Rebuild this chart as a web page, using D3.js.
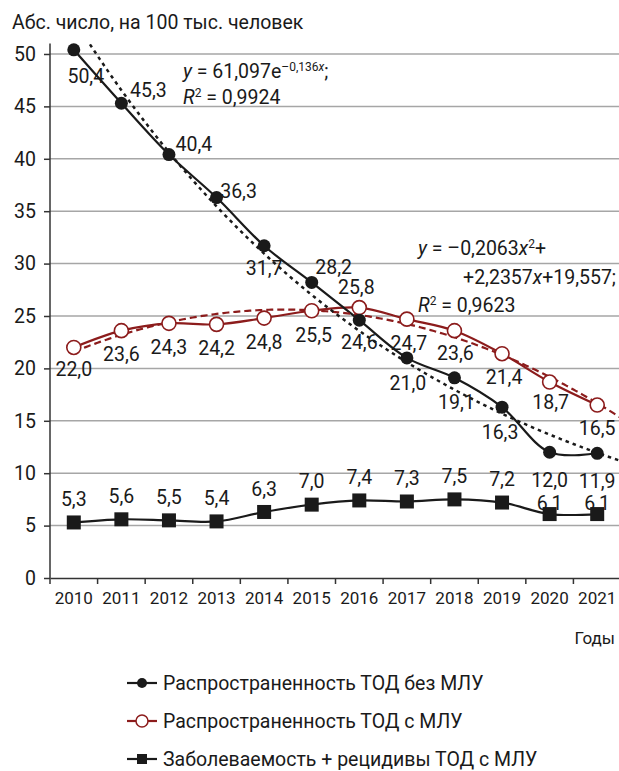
<!DOCTYPE html>
<html>
<head>
<meta charset="utf-8">
<script src="https://cdn.jsdelivr.net/npm/d3@7"></script>
<style>
  body { margin: 0; background: #fff; }
  text { font-family: "Roboto", "Liberation Sans", sans-serif; fill: #1a1a1a; }
</style>
</head>
<body>
<div id="chart"></div>
<script>
var years = [2010, 2011, 2012, 2013, 2014, 2015, 2016, 2017, 2018, 2019, 2020, 2021];
var prevNoMdr = [50.4, 45.3, 40.4, 36.3, 31.7, 28.2, 24.6, 21.0, 19.1, 16.3, 12.0, 11.9];
var prevMdr = [22.0, 23.6, 24.3, 24.2, 24.8, 25.5, 25.8, 24.7, 23.6, 21.4, 18.7, 16.5];
var incMdr = [5.3, 5.6, 5.5, 5.4, 6.3, 7.0, 7.4, 7.3, 7.5, 7.2, 6.1, 6.1];
var yTicks = [0, 5, 10, 15, 20, 25, 30, 35, 40, 45, 50];
var seriesNames = ["Распространенность ТОД без МЛУ", "Распространенность ТОД с МЛУ", "Заболеваемость + рецидивы ТОД с МЛУ"];

// label placement (dx, dy of label centre from the point)
var pos1 = [[12,26],[27,-13],[25,-10],[22,-6],[0,22],[22,-15],[0,22],[1,25],[2,24],[-2,25],[0,28],[0,28]];
var pos2 = [[0,22],[0,24],[0,24],[0,24],[0,24],[2,24],[-3,-20],[2,24],[1,23],[2,23],[1,20],[0,23]];
var pos3 = [[0,-23],[0,-23],[0,-23],[0,-23],[0,-23],[0,-23],[0,-23],[0,-23],[0,-23],[0,-23],[0,-11],[0,-11]];

var W = 619, H = 771;
var red = "#8c1c1c";
var FONT = "Roboto, 'Liberation Sans', sans-serif";

var svg = d3.select("#chart").append("svg")
  .attr("width", W).attr("height", H);

var x = d3.scaleBand().domain(years).range([50, 621]);
var bw = x.bandwidth();
var y = d3.scaleLinear().domain([0, 51]).range([578, 43.5]);
var xi = d3.scaleLinear().domain([1, 12]).range([x(2010) + bw / 2, x(2021) + bw / 2]);

function cx(d, i) { return x(years[i]) + bw / 2; }

// title
svg.append("text").attr("x", 12).attr("y", 29)
  .style("font-size", "19.5px").text("Абс. число, на 100 тыс. человек");

// grid
svg.append("g").selectAll("line").data(yTicks.slice(1)).enter().append("line")
  .attr("x1", 50).attr("x2", W).attr("y1", function(d){ return y(d); }).attr("y2", function(d){ return y(d); })
  .attr("stroke", "#a6a6a6").attr("stroke-width", 1.5);

// y axis
var yAxis = svg.append("g").attr("transform", "translate(50,0)")
  .call(d3.axisLeft(y).tickValues(yTicks).tickSize(6).tickFormat(d3.format("d")));
yAxis.attr("font-family", FONT);
yAxis.select(".domain").attr("stroke", "#333").attr("stroke-width", 1.5).attr("d", "M0," + y(51) + "V" + y(0));
yAxis.selectAll(".tick line").attr("stroke", "#333").attr("stroke-width", 1.5);
yAxis.selectAll(".tick text").attr("x", -14).style("font-size", "19.5px").attr("fill", "#1a1a1a");

// x axis
var xAxis = svg.append("g").attr("transform", "translate(0," + y(0) + ")")
  .call(d3.axisBottom(x).tickSize(0).tickPadding(14));
xAxis.attr("font-family", FONT);
xAxis.select(".domain").attr("stroke", "#333").attr("stroke-width", 1.5);
xAxis.selectAll(".tick text").style("font-size", "17px").attr("fill", "#1a1a1a");
svg.append("g").selectAll("line").data(years.concat([null])).enter().append("line")
  .attr("x1", function(d, i){ return x.range()[0] + i * bw; })
  .attr("x2", function(d, i){ return x.range()[0] + i * bw; })
  .attr("y1", y(0)).attr("y2", y(0) + 6)
  .attr("stroke", "#333").attr("stroke-width", 1.5);

svg.append("text").attr("x", 615).attr("y", 644).attr("text-anchor", "end")
  .style("font-size", "17px").text("Годы");

// clip for trend lines
svg.append("clipPath").attr("id", "plot").append("rect")
  .attr("x", 50).attr("y", y(51)).attr("width", W - 50).attr("height", y(0) - y(51));

var trendX = d3.range(1, 12.61, 0.05);
var expLine = d3.line().x(function(d){ return xi(d); }).y(function(d){ return y(61.097 * Math.exp(-0.136 * d)); });
var polyLine = d3.line().x(function(d){ return xi(d); }).y(function(d){ return y(-0.2063 * d * d + 2.2357 * d + 19.557); });

var smooth = d3.line().x(cx).y(function(d){ return y(d); }).curve(d3.curveCatmullRom.alpha(0.5));

// series lines
svg.append("path").datum(incMdr).attr("d", smooth).attr("fill", "none").attr("stroke", "#1a1a1a").attr("stroke-width", 2.2);
svg.append("path").datum(prevMdr).attr("d", smooth).attr("fill", "none").attr("stroke", red).attr("stroke-width", 2.2);
svg.append("path").datum(prevNoMdr).attr("d", smooth).attr("fill", "none").attr("stroke", "#1a1a1a").attr("stroke-width", 2.2);

// trend lines
svg.append("path").datum(trendX).attr("d", polyLine).attr("clip-path", "url(#plot)")
  .attr("fill", "none").attr("stroke", red).attr("stroke-width", 2.2).attr("stroke-dasharray", "7,4");
svg.append("path").datum(trendX).attr("d", expLine).attr("clip-path", "url(#plot)")
  .attr("fill", "none").attr("stroke", "#1a1a1a").attr("stroke-width", 2.5).attr("stroke-dasharray", "3.5,4");

// markers
svg.append("g").selectAll("rect").data(incMdr).enter().append("rect")
  .attr("x", function(d, i){ return cx(d, i) - 7; }).attr("y", function(d){ return y(d) - 7; })
  .attr("width", 14).attr("height", 14).attr("fill", "#1a1a1a");
svg.append("g").selectAll("circle").data(prevMdr).enter().append("circle")
  .attr("cx", cx).attr("cy", function(d){ return y(d); }).attr("r", 7)
  .attr("fill", "#fff").attr("stroke", red).attr("stroke-width", 1.6);
svg.append("g").selectAll("circle").data(prevNoMdr).enter().append("circle")
  .attr("cx", cx).attr("cy", function(d){ return y(d); }).attr("r", 6.5)
  .attr("fill", "#1a1a1a");

// value labels
var fmt = function(v){ return v.toFixed(1).replace(".", ","); };
function labels(data, p) {
  svg.append("g").selectAll("text").data(data).enter().append("text")
    .attr("x", function(d, i){ return cx(d, i) + p[i][0]; })
    .attr("y", function(d, i){ return y(d) + p[i][1]; })
    .attr("dy", "0.35em").attr("text-anchor", "middle")
    .style("font-size", "19.5px").text(fmt);
}
labels(prevNoMdr, pos1);
labels(prevMdr, pos2);
labels(incMdr, pos3);

// trend equations
var eq1 = svg.append("text").attr("x", 183).attr("y", 78).style("font-size", "19.5px");
eq1.append("tspan").style("font-style", "italic").text("y");
eq1.append("tspan").text(" = 61,097e");
eq1.append("tspan").attr("dy", -7).style("font-size", "12px").text("–0,136");
eq1.append("tspan").style("font-size", "12px").style("font-style", "italic").text("x");
eq1.append("tspan").attr("dy", 7).text(";");
var r1 = svg.append("text").attr("x", 183).attr("y", 104).style("font-size", "19.5px");
r1.append("tspan").style("font-style", "italic").text("R");
r1.append("tspan").attr("dy", -7).style("font-size", "12px").text("2");
r1.append("tspan").attr("dy", 7).text(" = 0,9924");

var eq2 = svg.append("text").attr("x", 418).attr("y", 255).style("font-size", "19.5px");
eq2.append("tspan").style("font-style", "italic").text("y");
eq2.append("tspan").text(" = –0,2063");
eq2.append("tspan").style("font-style", "italic").text("x");
eq2.append("tspan").attr("dy", -7).style("font-size", "12px").text("2");
eq2.append("tspan").attr("dy", 7).text("+");
var eq3 = svg.append("text").attr("x", 616).attr("y", 284).attr("text-anchor", "end").style("font-size", "19.5px");
eq3.append("tspan").text("+2,2357");
eq3.append("tspan").style("font-style", "italic").text("x");
eq3.append("tspan").text("+19,557;");
var r2 = svg.append("text").attr("x", 418).attr("y", 312).style("font-size", "19.5px");
r2.append("tspan").style("font-style", "italic").text("R");
r2.append("tspan").attr("dy", -7).style("font-size", "12px").text("2");
r2.append("tspan").attr("dy", 7).text(" = 0,9623");

// legend
var legY = [683, 721, 759];
var leg = svg.append("g").selectAll("g").data(seriesNames).enter().append("g")
  .attr("transform", function(d, i){ return "translate(127," + legY[i] + ")"; });
leg.append("line").attr("x1", 0).attr("x2", 30).attr("y1", 0).attr("y2", 0)
  .attr("stroke", function(d, i){ return i === 1 ? red : "#1a1a1a"; }).attr("stroke-width", 2.2);
leg.filter(function(d, i){ return i === 0; }).append("circle").attr("cx", 15).attr("r", 5).attr("fill", "#1a1a1a");
leg.filter(function(d, i){ return i === 1; }).append("circle").attr("cx", 15).attr("r", 6)
  .attr("fill", "#fff").attr("stroke", red).attr("stroke-width", 1.5);
leg.filter(function(d, i){ return i === 2; }).append("rect").attr("x", 10).attr("y", -5).attr("width", 10).attr("height", 10).attr("fill", "#1a1a1a");
leg.append("text").attr("x", 36).attr("dy", "0.35em").style("font-size", "19.5px").text(function(d){ return d; });
</script>
</body>
</html>
